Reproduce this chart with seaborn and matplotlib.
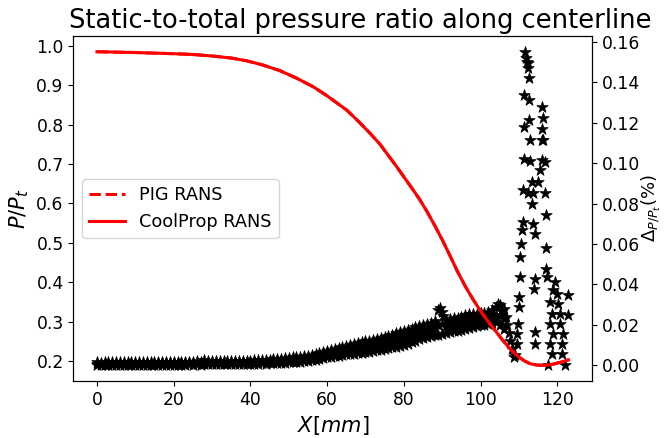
import matplotlib
matplotlib.use("Agg")
import matplotlib.pyplot as plt
import seaborn as sns
import pandas as pd

# ---------------- data ----------------
# red curve: static-to-total pressure ratio along centerline
x_line = [0, 5, 10, 13, 20, 25, 30.2, 35, 39, 43, 47.7, 52, 56.4, 60, 65.1, 68,
          71.1, 73.8, 78, 82, 84, 86, 88, 90, 92, 94, 96, 98, 100, 102, 104, 106,
          108, 110, 111.5, 113, 114.6, 116.5, 118.5, 120.5, 122.9]
p_coolprop = [0.985, 0.984, 0.983, 0.982, 0.980, 0.978, 0.974, 0.969, 0.962, 0.952,
              0.937, 0.918, 0.896, 0.873, 0.837, 0.810, 0.779, 0.750, 0.695, 0.640,
              0.612, 0.580, 0.545, 0.508, 0.468, 0.427, 0.390, 0.357, 0.327, 0.300,
              0.275, 0.250, 0.228, 0.210, 0.200, 0.193, 0.190, 0.189, 0.191, 0.196,
              0.203]
p_pig = [0.985, 0.984, 0.983, 0.982, 0.980, 0.978, 0.974, 0.969, 0.962, 0.952,
         0.937, 0.918, 0.896, 0.873, 0.837, 0.810, 0.779, 0.750, 0.695, 0.640,
         0.612, 0.580, 0.545, 0.508, 0.468, 0.427, 0.390, 0.357, 0.327, 0.300,
         0.275, 0.250, 0.228, 0.210, 0.200, 0.193, 0.190, 0.189, 0.191, 0.196,
         0.203]

# star markers: difference between the two models (%)
x_band = list(range(0, 107))
d_lo = [0.0000, 0.0001, 0.0000, 0.0001, 0.0002, 0.0001, 0.0000, 0.0002, 0.0001, 0.0002,
        0.0002, 0.0001, 0.0002, 0.0003, 0.0002, 0.0003, 0.0002, 0.0003, 0.0003, 0.0002,
        0.0003, 0.0004, 0.0003, 0.0004, 0.0005, 0.0004, 0.0005, 0.0004, 0.0005, 0.0006,
        0.0005, 0.0006, 0.0005, 0.0006, 0.0007, 0.0006, 0.0007, 0.0006, 0.0007, 0.0008,
        0.0006, 0.0008, 0.0009, 0.0010, 0.0009, 0.0011, 0.0012, 0.0011, 0.0013, 0.0014,
        0.0015, 0.0016, 0.0018, 0.0019, 0.0021, 0.0022, 0.0026, 0.0029, 0.0033, 0.0036,
        0.0040, 0.0042, 0.0045, 0.0048, 0.0051, 0.0054, 0.0056, 0.0058, 0.0060, 0.0062,
        0.0064, 0.0068, 0.0071, 0.0075, 0.0078, 0.0082, 0.0086, 0.0089, 0.0093, 0.0096,
        0.0100, 0.0107, 0.0114, 0.0121, 0.0128, 0.0135, 0.0140, 0.0145, 0.0149, 0.0152,
        0.0156, 0.0160, 0.0165, 0.0168, 0.0171, 0.0174, 0.0178, 0.0183, 0.0188, 0.0193,
        0.0198, 0.0202, 0.0206, 0.0210, 0.0213, 0.0200, 0.0180]
d_mid = [0.0008, 0.0007, 0.0008, 0.0008, 0.0009, 0.0008, 0.0008, 0.0009, 0.0008, 0.0009,
         0.0009, 0.0009, 0.0009, 0.0010, 0.0009, 0.0010, 0.0010, 0.0010, 0.0011, 0.0010,
         0.0011, 0.0011, 0.0011, 0.0012, 0.0012, 0.0012, 0.0013, 0.0012, 0.0013, 0.0013,
         0.0013, 0.0014, 0.0013, 0.0014, 0.0014, 0.0014, 0.0015, 0.0014, 0.0015, 0.0016,
         0.0015, 0.0017, 0.0018, 0.0019, 0.0019, 0.0020, 0.0022, 0.0022, 0.0024, 0.0025,
         0.0026, 0.0028, 0.0030, 0.0031, 0.0034, 0.0035, 0.0040, 0.0043, 0.0047, 0.0051,
         0.0055, 0.0058, 0.0062, 0.0066, 0.0070, 0.0074, 0.0078, 0.0081, 0.0085, 0.0088,
         0.0092, 0.0096, 0.0099, 0.0103, 0.0107, 0.0111, 0.0116, 0.0121, 0.0126, 0.0130,
         0.0135, 0.0142, 0.0148, 0.0155, 0.0161, 0.0168, 0.0173, 0.0178, 0.0184, 0.0200,
         0.0205, 0.0193, 0.0198, 0.0201, 0.0204, 0.0207, 0.0214, 0.0218, 0.0221, 0.0225,
         0.0228, 0.0231, 0.0236, 0.0243, 0.0250, 0.0250, 0.0230]
d_hi = [0.0015, 0.0014, 0.0016, 0.0015, 0.0016, 0.0015, 0.0016, 0.0015, 0.0016, 0.0016,
        0.0016, 0.0017, 0.0016, 0.0017, 0.0016, 0.0017, 0.0018, 0.0017, 0.0018, 0.0017,
        0.0018, 0.0019, 0.0018, 0.0019, 0.0018, 0.0019, 0.0020, 0.0019, 0.0027, 0.0020,
        0.0020, 0.0021, 0.0020, 0.0022, 0.0021, 0.0022, 0.0023, 0.0022, 0.0023, 0.0024,
        0.0024, 0.0025, 0.0026, 0.0027, 0.0028, 0.0029, 0.0031, 0.0032, 0.0034, 0.0035,
        0.0037, 0.0039, 0.0041, 0.0043, 0.0046, 0.0048, 0.0053, 0.0057, 0.0061, 0.0065,
        0.0069, 0.0074, 0.0079, 0.0084, 0.0089, 0.0094, 0.0099, 0.0104, 0.0109, 0.0114,
        0.0119, 0.0123, 0.0127, 0.0131, 0.0135, 0.0140, 0.0146, 0.0152, 0.0158, 0.0164,
        0.0170, 0.0176, 0.0182, 0.0188, 0.0194, 0.0200, 0.0205, 0.0210, 0.0218, 0.0275,
        0.0265, 0.0225, 0.0230, 0.0233, 0.0236, 0.0240, 0.0250, 0.0252, 0.0254, 0.0256,
        0.0257, 0.0260, 0.0265, 0.0275, 0.0290, 0.0300, 0.0280]

x_peak = [89.5, 90.3, 104.6, 105.5, 106.5, 107.0, 107.4, 107.8, 108.2, 108.6,
          111.60, 111.78, 112.03, 112.30, 112.47, 112.64, 111.34, 112.64,
          116.12, 116.38, 116.12, 116.38, 115.95, 112.73, 111.34, 112.90,
          111.34, 112.90, 115.95, 116.82, 115.51,
          113.50, 115.08, 111.17, 112.47, 113.77, 116.82, 113.33, 116.99,
          111.17, 113.77, 110.73, 114.21, 110.47, 116.99, 110.30,
          116.99, 117.25, 114.21, 110.30, 113.95,
          119.43, 119.00, 119.86, 122.91, 118.12, 120.30, 118.56, 120.73, 122.91,
          118.12, 120.73, 119.00, 121.60, 118.12, 121.17, 118.56, 121.17, 117.69, 122.04,
          110.12, 110.12, 109.86, 109.43, 109.43, 108.99, 114.21, 114.21]
d_peak = [0.0285, 0.0245, 0.0305, 0.0270, 0.0240, 0.0200, 0.0160, 0.0120, 0.0080, 0.0040,
          0.1551, 0.1518, 0.1500, 0.1493, 0.1469, 0.1419, 0.1336, 0.1312,
          0.1279, 0.1225, 0.1171, 0.1114, 0.1114, 0.1215, 0.1177, 0.1114,
          0.1023, 0.1012, 0.1015, 0.1007, 0.0965,
          0.0907, 0.0907, 0.0866, 0.0850, 0.0850, 0.0850, 0.0800, 0.0742,
          0.0709, 0.0701, 0.0668, 0.0652, 0.0602, 0.0578, 0.0536,
          0.0478, 0.0437, 0.0429, 0.0437, 0.0379,
          0.0412, 0.0371, 0.0355, 0.0346, 0.0313, 0.0305, 0.0256, 0.0256, 0.0247,
          0.0206, 0.0206, 0.0157, 0.0157, 0.0107, 0.0107, 0.0058, 0.0058, 0.0000, 0.0000,
          0.0338, 0.0289, 0.0206, 0.0157, 0.0107, 0.0050, 0.0165, 0.0107]

title = "Static-to-total pressure ratio along centerline"
x_label = "$X[mm]$"
y_label = "$P/P_t$"
y2_label = r"$\Delta_{P/P_t}(\%)$"

# ---------------- tables ----------------
df_line = pd.DataFrame({"x": x_line, "pig": p_pig, "coolprop": p_coolprop})
df_stars = pd.DataFrame({
    "x": x_band + x_band + x_band + x_peak,
    "d": d_lo + d_mid + d_hi + d_peak,
})

# ---------------- figure ----------------
fig = plt.figure(figsize=(6.67, 4.38), dpi=100)
ax = fig.add_axes([0.110, 0.130, 0.7776, 0.7877])
ax2 = ax.twinx()

sns.scatterplot(data=df_stars, x="x", y="d", ax=ax2, marker="*", s=75,
                color="black", edgecolor="black", linewidth=0.5, legend=False)

sns.lineplot(data=df_line, x="x", y="pig", ax=ax, color="red", linestyle="--",
             linewidth=2.2, label="PIG RANS", estimator=None, sort=False)
sns.lineplot(data=df_line, x="x", y="coolprop", ax=ax, color="red", linestyle="-",
             linewidth=2.2, label="CoolProp RANS", estimator=None, sort=False)

ax.set_zorder(ax2.get_zorder() + 1)
ax.patch.set_visible(False)

ax.set_xticks([0, 20, 40, 60, 80, 100, 120])
ax.set_yticks([0.2, 0.3, 0.4, 0.5, 0.6, 0.7, 0.8, 0.9, 1.0])
ax2.set_yticks([0.0, 0.02, 0.04, 0.06, 0.08, 0.10, 0.12, 0.14, 0.16])
ax2.set_yticklabels(["0.00", "0.02", "0.04", "0.06", "0.08", "0.10", "0.12", "0.14", "0.16"])

ax.tick_params(labelsize=12.3)
ax2.tick_params(labelsize=12.3)
ax.set_xlabel(x_label, fontsize=15)
ax.set_ylabel(y_label, fontsize=15)
ax2.set_ylabel(y2_label, fontsize=13, labelpad=0)
ax.set_title(title, fontsize=18.5, x=0.553)

ax.legend(loc="center left", fontsize=12.8)

fig.savefig("out.png", dpi=100)
